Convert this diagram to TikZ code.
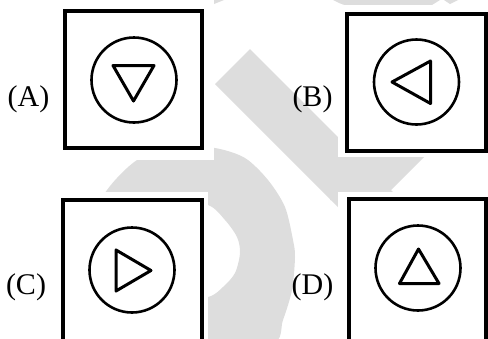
\documentclass[tikz,border=0pt]{standalone}
\usepackage{fontspec}
\setmainfont{Liberation Serif}
\definecolor{wm}{RGB}{221,221,221}
\begin{document}
\begin{tikzpicture}[x=1pt,y=-1pt,
  frame/.style={line width=4pt},
  ring/.style={line width=2.6pt},
  tri/.style={line width=3pt,line join=round},
  lab/.style={font=\fontsize{30}{36}\selectfont, inner sep=0pt},
  halo/.style={fill=white, draw=none}]
\useasboundingbox (0,0) rectangle (488,338);
\clip (0,0) rectangle (488,338);
% watermark
\fill[wm,even odd rule]
  plot[smooth cycle] coordinates {(95,340) (95,220) (107,190) (137,160) (175,146) (215,148) (245,158) (268,180) (285,207) (293,240) (295,257) (292,290) (283,320) (272,345) (200,360)}
  plot[smooth cycle] coordinates {(170,200) (208,205) (225,220) (237,237) (240,253) (235,273) (223,287) (208,297) (170,300)};
\fill[wm] (250,49) -- (215,84) -- (380,249) -- (415,214) -- cycle;
\fill[wm] (330,140) -- (441,140) -- (381,200) -- (330,200) -- cycle;
\fill[wm] (333,0) .. controls (345,6) .. (360,5) -- (432,5) -- (440,0) -- cycle;
\fill[wm] (444,0) -- (458,0) -- (450,4) -- cycle;
\fill[wm] (214,0) -- (224,0) -- (214,4) -- cycle;
% halos
\path[halo] (40,-5) rectangle (214,160);
\path[halo] (338,5) rectangle (490,157);
\path[halo] (50,192) rectangle (208,345);
\path[halo] (338,192) rectangle (490,345);
% boxes
\draw[frame] (65.3,11) rectangle (202.3,148);
\draw[frame] (347,13.7) rectangle (486,151);
\draw[frame] (62.7,200.3) rectangle (202,350);
\draw[frame] (349.3,199.3) rectangle (486,350);
% circles
\draw[ring] (134,80) circle[radius=42.5];
\draw[ring] (416.5,82) circle[radius=42.5];
\draw[ring] (132,270) circle[radius=42.5];
\draw[ring] (418,268) circle[radius=42.5];
% triangles
\draw[tri] (113,65.5) -- (154,65.5) -- (133.5,101) -- cycle;
\draw[tri] (392,82) -- (430.5,61) -- (430.5,103.5) -- cycle;
\draw[tri] (116,250) -- (151,270.5) -- (116,291) -- cycle;
\draw[tri] (418.5,249) -- (439,283.5) -- (399.5,283.5) -- cycle;
% labels
\node[lab] (la) at (28.5,99) {(A)};
\node[lab] (lb) at (312.5,99) {(B)};
\node[lab] (lc) at (26,287.5) {(C)};
\node[lab] (ld) at (312.5,287.5) {(D)};
\end{tikzpicture}
\end{document}
